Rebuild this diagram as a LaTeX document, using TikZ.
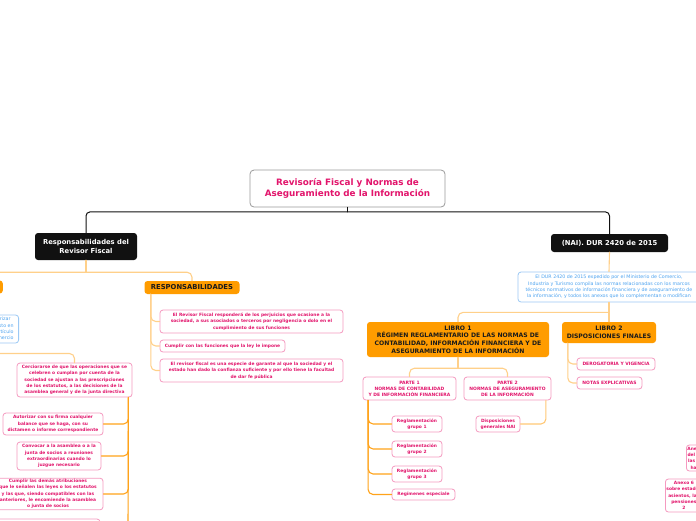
\documentclass[tikz,border=0pt]{standalone}
\usepackage{fontspec}
\setmainfont{DejaVu Sans}
\usepackage{tikz}
\usetikzlibrary{calc, positioning}
\definecolor{rf-ink}{HTML}{1A1A1A}
\definecolor{rf-black}{HTML}{111111}
\definecolor{rf-gray}{HTML}{9A9A9A}
\definecolor{rf-crimson}{HTML}{E2146B}
\definecolor{rf-pink}{HTML}{F59AC0}
\definecolor{rf-orange}{HTML}{FF9C00}
\definecolor{rf-peach}{HTML}{FFD08A}
\definecolor{rf-amber}{HTML}{FFA31A}
\definecolor{rf-blueline}{HTML}{9CC9F5}
\definecolor{rf-blue}{HTML}{4DA3F0}

\tikzset{
  rf-root/.style={draw=rf-gray, fill=white, rounded corners=4pt, line width=0.8pt,
    text=rf-crimson, align=center, font=\fontsize{8.8}{11.2}\selectfont\bfseries},
  rf-main/.style={fill=rf-black, rounded corners=3pt, text=white, align=center,
    font=\fontsize{6.8}{9}\selectfont\bfseries},
  rf-sect/.style={fill=rf-orange, rounded corners=3pt, text=rf-ink, align=center,
    inner sep=1pt, font=\fontsize{6.1}{7.8}\selectfont\bfseries},
  rf-leaf/.style={draw=rf-pink, fill=white, rounded corners=3pt, line width=0.8pt,
    text=rf-crimson, align=center, inner sep=1pt, font=\fontsize{4.4}{6.3}\selectfont\bfseries},
  rf-caps/.style={rf-leaf, font=\fontsize{4.5}{6}\selectfont\bfseries},
  rf-note/.style={draw=rf-blueline, fill=white, rounded corners=3pt, line width=0.8pt,
    text=rf-blue, align=center, inner sep=1pt, font=\fontsize{4.75}{6.3}\selectfont},
  rf-wire/.style={draw=rf-black, line width=1pt, rounded corners=4pt},
  rf-soft/.style={draw=rf-peach, line width=1.1pt, rounded corners=5pt},
  rf-strong/.style={draw=rf-amber, line width=1.1pt, rounded corners=5pt},
}

\begin{document}
\begin{tikzpicture}[x=1pt, y=-1pt, line cap=round, line join=round]
  \useasboundingbox (0,0) rectangle (696,520);
  \fill[white] (0,0) rectangle (696,520);
  \clip (0,0) rectangle (696,520);

  % raiz
  \node[rf-root, minimum width=195pt, minimum height=37pt] (title) at (347.5,188.5)
    {Revisoría Fiscal y Normas de\\Aseguramiento de la Información};
  \node[rf-main, minimum width=102pt, minimum height=27pt] (revfis) at (86,246.5)
    {Responsabilidades del\\Revisor Fiscal};
  \node[rf-main, minimum width=117pt, minimum height=18pt] (nai) at (609.5,243)
    {(NAI). DUR 2420 de 2015};
  \coordinate (rootjoin) at ($(title.south)+(0,4.5)$);
  \draw[rf-wire] (title.south) -- (rootjoin);
  \draw[rf-wire] (revfis.north) |- (rootjoin) -| (nai.north);

  % revisor fiscal
  \node[rf-sect, anchor=east, minimum width=62pt, minimum height=13pt,
    font=\fontsize{6.8}{8}\selectfont\bfseries] (func) at (3,287) {FUNCIONES};
  \node[rf-sect, minimum width=95pt, minimum height=13pt,
    font=\fontsize{6.8}{8}\selectfont\bfseries] (respons) at (192,287.5) {RESPONSABILIDADES};
  \coordinate (revjoin) at ($(revfis.south)+(0,12)$);
  \draw[rf-soft] (revfis.south) -- (revjoin);
  \draw[rf-soft] (func.north) |- (revjoin) -| (respons.north);

  \node[rf-leaf, minimum width=183pt, minimum height=23pt] (perj) at (251.5,321.5)
    {El Revisor Fiscal responderá de los perjuicios que ocasione a la\\
     sociedad, a sus asociados o terceros por negligencia o dolo en el\\
     cumplimiento de sus funciones};
  \node[rf-leaf, minimum width=125pt, minimum height=12pt] (cumpl) at (222.5,346)
    {Cumplir con las funciones que la ley le impone};
  \node[rf-leaf, minimum width=183pt, minimum height=23pt] (garan) at (251.5,370.5)
    {El revisor fiscal es una especie de garante al que la sociedad y el\\
     estado han dado la confianza suficiente y por ello tiene la facultad\\
     de dar fe pública};
  \foreach \n in {perj, cumpl, garan}
    \draw[rf-soft] ([xshift=6.5pt]respons.south west) |- (\n.west);

  % funciones
  \node[rf-note, anchor=east, minimum height=28pt, align=right, inner xsep=5pt] (art) at (19,329)
    {Funciones que debe autorizar\hspace*{3pt}\\ según lo dispuesto en\hspace*{9pt}\\
     el numeral 10 del artículo\hspace*{2pt}\\ 207 del Código de Comercio};
  \node[rf-leaf, minimum width=115pt, minimum height=34pt] (cerc) at (74.5,380)
    {Cerciorarse de que las operaciones que se\\ celebren o cumplan por cuenta de la\\
     sociedad se ajustan a las prescripciones\\ de los estatutos, a las decisiones de la\\
     asamblea general y de la junta directiva};
  \node[rf-leaf, minimum width=100pt, minimum height=22pt] (autor) at (53,424)
    {Autorizar con su firma cualquier\\ balance que se haga, con su\\
     dictamen o informe correspondiente};
  \node[rf-leaf, minimum width=84pt, minimum height=28pt] (convo) at (59,456)
    {Convocar a la asamblea o a la\\ junta de socios a reuniones\\
     extraordinarias cuando lo\\ juzgue necesario};
  \node[rf-leaf, minimum width=110pt, minimum height=30pt] (atrib) at (48,494)
    {Cumplir las demás atribuciones\\ que le señalen las leyes o los estatutos\\
     y las que, siendo compatibles con las\\ anteriores, le encomiende la asamblea\\
     o junta de socios};
  \draw[rf-pink, fill=white, line width=0.8pt, rounded corners=3pt] (-10,519) rectangle (100,545);
  \coordinate (offl) at (-5,353.5);
  \coordinate (offb) at (128,530);
  \draw[rf-soft] (offl) -| (cerc.north);
  \foreach \n in {autor, convo, atrib}
    \draw[rf-strong] ([xshift=-4pt]cerc.south east) |- (\n.east);
  \draw[rf-strong] ([xshift=-4pt]cerc.south east) -- (offb);

  % dur 2420
  \node[rf-note, minimum width=182pt, minimum height=30pt] (dur) at (609,287)
    {El DUR 2420 de 2015 expedido por el Ministerio de Comercio,\\
     Industria y Turismo compila las normas relacionadas con los marcos\\
     técnicos normativos de información financiera y de aseguramiento de\\
     la información, y todos los anexos que lo complementan o modifican};
  \node[rf-sect, minimum width=182pt, minimum height=35pt] (lib1) at (458,339.5)
    {LIBRO 1\\ RÉGIMEN REGLAMENTARIO DE LAS NORMAS DE\\
     CONTABILIDAD, INFORMACIÓN FINANCIERA Y DE\\ ASEGURAMIENTO DE LA INFORMACIÓN};
  \node[rf-sect, minimum width=94pt, minimum height=21pt] (lib2) at (609,332.5)
    {LIBRO 2\\ DISPOSICIONES FINALES};
  \coordinate (durjoin) at ($(dur.south)+(0,10)$);
  \draw[rf-soft] (nai.south) -- (dur.north);
  \draw[rf-soft] (dur.south) -- (lib2.north);
  \draw[rf-soft] (lib1.north) |- (durjoin);

  % libro 1
  \node[rf-caps, minimum width=93pt, minimum height=23pt] (parte1) at (409.5,388.5)
    {PARTE 1\\ NORMAS DE CONTABILIDAD\\ Y DE INFORMACIÓN FINANCIERA};
  \node[rf-caps, minimum width=87pt, minimum height=23pt] (parte2) at (507.5,388.5)
    {PARTE 2\\ NORMAS DE ASEGURAMIENTO\\ DE LA INFORMACIÓN};
  \coordinate (libjoin) at ($(lib1.south)+(0,11)$);
  \draw[rf-soft] (lib1.south) -- (libjoin);
  \draw[rf-soft] (parte1.north) |- (libjoin) -| (parte2.north);

  \node[rf-leaf, minimum width=50pt, minimum height=16pt] (grp1) at (417,424) {Reglamentación\\ grupo 1};
  \node[rf-leaf, minimum width=50pt, minimum height=16pt] (grp2) at (417,449) {Reglamentación\\ grupo 2};
  \node[rf-leaf, minimum width=50pt, minimum height=16pt] (grp3) at (417,474) {Reglamentación\\ grupo 3};
  \node[rf-leaf, minimum width=63pt, minimum height=11pt] (regesp) at (423.5,494.5) {Regímenes especiale};
  \foreach \n in {grp1, grp2, grp3, regesp}
    \draw[rf-strong] ([xshift=5.5pt]parte1.south west) |- (\n.west);

  \node[rf-leaf, minimum width=44pt, minimum height=16pt] (dispo) at (498,424)
    {Disposiciones\\ generales NAI};
  \draw[rf-soft, draw=rf-amber!60] ([xshift=-5.5pt]parte2.south east) |- (dispo.east);

  % libro 2
  \node[rf-caps, minimum width=78pt, minimum height=12pt] (derog) at (616,364) {DEROGATORIA Y VIGENCIA};
  \node[rf-caps, minimum width=65pt, minimum height=12pt] (notas) at (609.5,383) {NOTAS EXPLICATIVAS};
  \foreach \n in {derog, notas}
    \draw[rf-soft] ([xshift=6pt]lib2.south west) |- (\n.west);

  % anexos
  \node[rf-leaf, anchor=west, minimum height=26pt] (anx1) at (686,458)
    {Anexo 1\\ del DUR\\ las NIIF\\ hasta};
  \node[rf-leaf, anchor=west, minimum height=33pt] (anx2) at (665,495.5)
    {Anexo 6\\ sobre estados\\ asientos, las\\ pensiones\\ 2};
\end{tikzpicture}
\end{document}
